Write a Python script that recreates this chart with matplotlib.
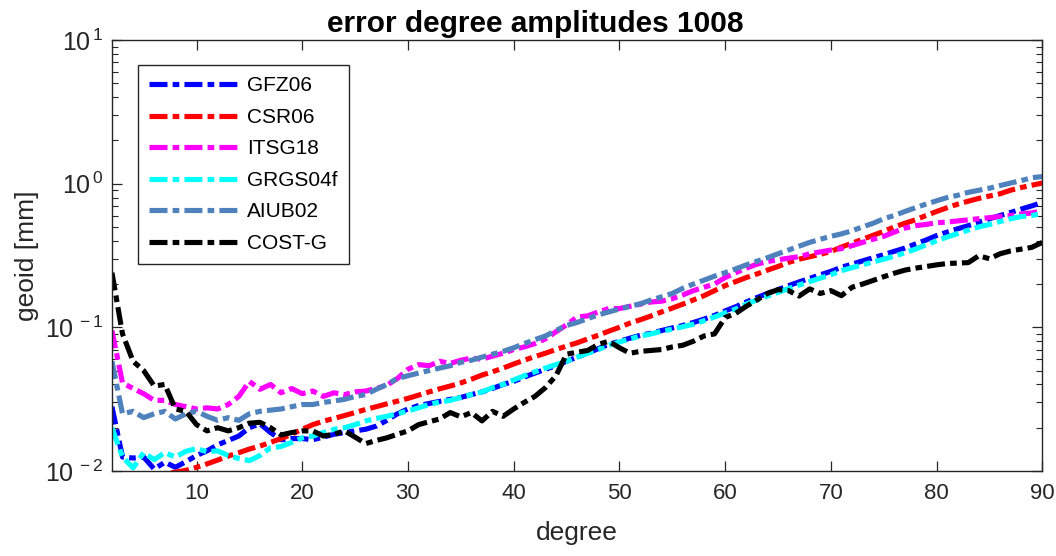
import numpy as np
import matplotlib
matplotlib.use("Agg")
import matplotlib.pyplot as plt
from matplotlib.ticker import LogLocator, FixedLocator, FuncFormatter

plt.rcParams['font.family'] = ['Liberation Sans', 'DejaVu Sans']
plt.rcParams['mathtext.default'] = 'regular'

degree = np.arange(2, 91)

gfz06 = [0.028, 0.0125, 0.0123, 0.0125, 0.0103, 0.0115, 0.0106, 0.0116, 0.0128, 0.0138,
         0.0152, 0.0163, 0.0175, 0.020, 0.0213, 0.0185, 0.0165, 0.0168, 0.0168, 0.0165,
         0.0172, 0.018, 0.0185, 0.019, 0.0195, 0.0205, 0.0225, 0.025, 0.027, 0.0285,
         0.0295, 0.0305, 0.0315, 0.0325, 0.034, 0.0355, 0.0375, 0.040, 0.042, 0.045,
         0.048, 0.051, 0.054, 0.058, 0.062, 0.066, 0.071, 0.076, 0.080, 0.084,
         0.088, 0.091, 0.095, 0.099, 0.103, 0.108, 0.114, 0.121, 0.130, 0.139,
         0.150, 0.161, 0.172, 0.183, 0.195, 0.207, 0.219, 0.232, 0.245, 0.262,
         0.275, 0.290, 0.305, 0.320, 0.338, 0.356, 0.380, 0.405, 0.435, 0.460,
         0.485, 0.510, 0.540, 0.570, 0.600, 0.630, 0.665, 0.700, 0.740]

csr06 = [0.0055, 0.006, 0.0068, 0.0075, 0.0085, 0.0096, 0.0098, 0.0101, 0.0106, 0.0112,
         0.0119, 0.0127, 0.0134, 0.0142, 0.0149, 0.0158, 0.0168, 0.018, 0.0195, 0.021,
         0.0222, 0.0232, 0.0243, 0.0255, 0.0268, 0.028, 0.0293, 0.0306, 0.032, 0.0337,
         0.0355, 0.0373, 0.039, 0.041, 0.0435, 0.0465, 0.049, 0.052, 0.0555, 0.059,
         0.0625, 0.066, 0.070, 0.074, 0.078, 0.083, 0.088, 0.094, 0.100, 0.107,
         0.113, 0.120, 0.128, 0.136, 0.145, 0.155, 0.166, 0.180, 0.195, 0.208,
         0.222, 0.235, 0.250, 0.265, 0.283, 0.298, 0.310, 0.322, 0.337, 0.362,
         0.385, 0.410, 0.437, 0.465, 0.500, 0.530, 0.560, 0.600, 0.640, 0.680,
         0.720, 0.755, 0.790, 0.820, 0.850, 0.900, 0.940, 0.975, 1.010]

itsg18 = [0.095, 0.041, 0.0375, 0.0345, 0.031, 0.031, 0.029, 0.028, 0.027, 0.0275,
          0.027, 0.029, 0.033, 0.042, 0.037, 0.040, 0.035, 0.0375, 0.0345, 0.036,
          0.033, 0.035, 0.034, 0.0355, 0.036, 0.0375, 0.0395, 0.044, 0.051, 0.055,
          0.054, 0.058, 0.056, 0.059, 0.061, 0.060, 0.063, 0.066, 0.070, 0.073,
          0.077, 0.083, 0.093, 0.104, 0.118, 0.120, 0.128, 0.135, 0.135, 0.140,
          0.145, 0.150, 0.152, 0.158, 0.168, 0.180, 0.190, 0.200, 0.222, 0.240,
          0.258, 0.275, 0.287, 0.295, 0.303, 0.310, 0.325, 0.335, 0.345, 0.353,
          0.370, 0.390, 0.410, 0.430, 0.460, 0.490, 0.510, 0.520, 0.535, 0.540,
          0.550, 0.560, 0.570, 0.580, 0.590, 0.600, 0.615, 0.625, 0.650]

grgs04f = [0.020, 0.0125, 0.0105, 0.0134, 0.012, 0.0134, 0.0125, 0.0137, 0.0143, 0.0136,
           0.0138, 0.0128, 0.0122, 0.0118, 0.0128, 0.0145, 0.0148, 0.0158, 0.017, 0.0175,
           0.0185, 0.0195, 0.020, 0.021, 0.0223, 0.0232, 0.024, 0.025, 0.0262, 0.0275,
           0.029, 0.0302, 0.031, 0.0325, 0.034, 0.0355, 0.038, 0.040, 0.043, 0.046,
           0.049, 0.052, 0.055, 0.058, 0.062, 0.066, 0.070, 0.075, 0.079, 0.083,
           0.087, 0.090, 0.094, 0.097, 0.101, 0.105, 0.111, 0.118, 0.126, 0.134,
           0.145, 0.155, 0.165, 0.175, 0.186, 0.197, 0.208, 0.220, 0.232, 0.248,
           0.260, 0.272, 0.285, 0.298, 0.313, 0.330, 0.350, 0.375, 0.400, 0.425,
           0.450, 0.475, 0.500, 0.520, 0.545, 0.570, 0.590, 0.600, 0.620]

aiub02 = [0.058, 0.025, 0.026, 0.0235, 0.025, 0.026, 0.023, 0.025, 0.026, 0.024,
          0.0225, 0.0235, 0.0225, 0.025, 0.026, 0.0265, 0.027, 0.028, 0.029, 0.029,
          0.030, 0.0307, 0.0315, 0.033, 0.034, 0.037, 0.040, 0.044, 0.046, 0.048,
          0.050, 0.052, 0.054, 0.057, 0.059, 0.062, 0.065, 0.068, 0.072, 0.077,
          0.082, 0.087, 0.095, 0.103, 0.108, 0.115, 0.122, 0.128, 0.134, 0.140,
          0.146, 0.155, 0.163, 0.172, 0.187, 0.200, 0.213, 0.227, 0.240, 0.255,
          0.272, 0.288, 0.305, 0.325, 0.345, 0.367, 0.390, 0.410, 0.430, 0.447,
          0.470, 0.500, 0.530, 0.570, 0.600, 0.640, 0.680, 0.720, 0.760, 0.800,
          0.830, 0.870, 0.900, 0.930, 0.970, 1.010, 1.050, 1.100, 1.120]

costg = [0.24, 0.09, 0.058, 0.050, 0.039, 0.040, 0.027, 0.026, 0.021, 0.019,
         0.020, 0.019, 0.020, 0.0215, 0.0218, 0.020, 0.0178, 0.0185, 0.019, 0.019,
         0.0175, 0.018, 0.019, 0.0172, 0.0155, 0.0163, 0.017, 0.018, 0.019, 0.021,
         0.022, 0.023, 0.0255, 0.0238, 0.0255, 0.0223, 0.026, 0.024, 0.027, 0.030,
         0.033, 0.038, 0.046, 0.065, 0.067, 0.069, 0.076, 0.080, 0.072, 0.066,
         0.068, 0.069, 0.070, 0.073, 0.075, 0.080, 0.087, 0.090, 0.117, 0.125,
         0.140, 0.155, 0.172, 0.183, 0.180, 0.165, 0.185, 0.172, 0.180, 0.166,
         0.190, 0.200, 0.212, 0.225, 0.238, 0.250, 0.258, 0.265, 0.272, 0.278,
         0.280, 0.282, 0.315, 0.300, 0.325, 0.340, 0.350, 0.360, 0.390]

series = [("GFZ06", gfz06, "#0000ff"),
          ("CSR06", csr06, "#ff0000"),
          ("ITSG18", itsg18, "#ff00ff"),
          ("GRGS04f", grgs04f, "#00ffff"),
          ("AIUB02", aiub02, "#4f81bd"),
          ("COST-G", costg, "#000000")]

fig = plt.figure(figsize=(10.56, 5.56), dpi=100)
ax = fig.add_axes([0.106, 0.153, 0.881, 0.775])

dash = (0, (3.5, 1.0, 1.3, 1.0))
for name, vals, col in series:
    ax.plot(degree, vals, color=col, lw=3.7, linestyle=dash, label=name,
            solid_capstyle='butt', dash_capstyle='butt')

ax.set_yscale('log')
ax.set_xlim(2, 90)
ax.set_ylim(1e-2, 1e1)
ax.xaxis.set_major_locator(FixedLocator([10, 20, 30, 40, 50, 60, 70, 80, 90]))
ax.yaxis.set_major_locator(LogLocator(base=10, numticks=10))
ax.yaxis.set_minor_locator(LogLocator(base=10, subs=np.arange(2, 10), numticks=20))
ax.yaxis.set_major_formatter(FuncFormatter(
    lambda v, p: r'$10^{\,%d}$' % int(round(np.log10(v)))))

edge = '#262626'
ax.tick_params(which='both', direction='in', top=True, right=True, colors=edge,
               labelcolor='#262626')
ax.tick_params(axis='x', which='major', pad=9, labelsize=16)
ax.tick_params(axis='y', which='major', pad=6, labelsize=18)
ax.tick_params(which='major', length=7, width=0.9)
ax.tick_params(which='minor', length=4, width=0.8)
for sp in ax.spines.values():
    sp.set_color(edge)
    sp.set_linewidth(1.0)

ax.set_xlabel("degree", fontsize=19, color='#262626', labelpad=12)
ax.set_ylabel("geoid [mm]", fontsize=19, color='#262626', labelpad=4)
ax.set_title("error degree amplitudes 1008", fontsize=21.5, fontweight='bold', pad=6,
             x=0.455)

leg = ax.legend(loc='upper left', bbox_to_anchor=(0.028, 0.942), borderaxespad=0,
                fontsize=15, handlelength=4.3, labelspacing=0.6, fancybox=False,
                framealpha=1, edgecolor=edge, borderpad=0.55, handletextpad=0.4)
leg.get_frame().set_linewidth(1.0)

fig.savefig("out.png", dpi=100)
